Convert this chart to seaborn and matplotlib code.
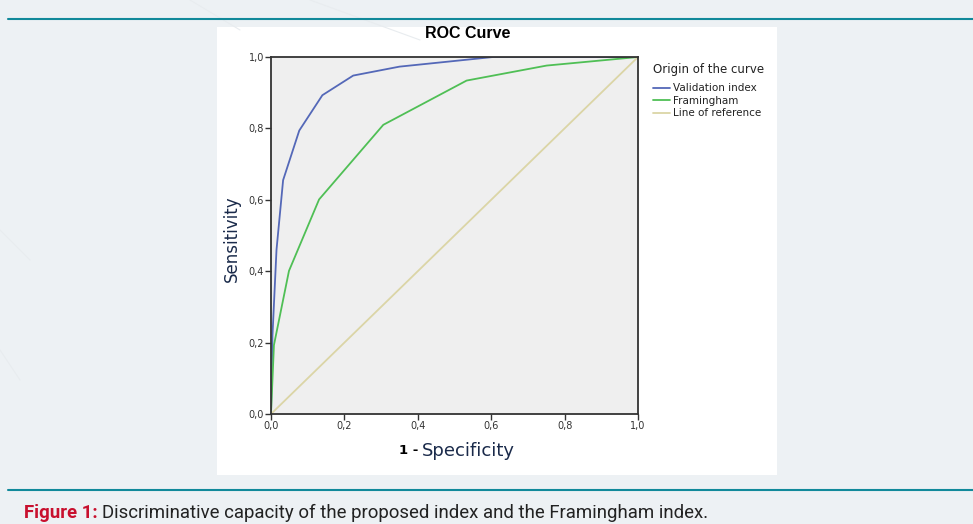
import matplotlib
matplotlib.use("Agg")
import matplotlib.pyplot as plt
import seaborn as sns
import pandas as pd
from matplotlib.patches import Rectangle
from matplotlib.lines import Line2D

# ---- data ----
validation_fpr = [0.0, 0.004, 0.015, 0.033, 0.077, 0.14, 0.224, 0.35, 0.605, 1.0]
validation_tpr = [0.0, 0.22, 0.46, 0.655, 0.794, 0.893, 0.948, 0.973, 1.0, 1.0]
framingham_fpr = [0.0, 0.008, 0.049, 0.131, 0.306, 0.533, 0.751, 1.0]
framingham_tpr = [0.0, 0.193, 0.401, 0.601, 0.81, 0.934, 0.976, 1.0]
reference_fpr = [0.0, 1.0]
reference_tpr = [0.0, 1.0]
series_names = ["Validation index", "Framingham", "Line of reference"]
series_colors = ["#5468b8", "#4fbf55", "#dbd5a6"]
tick_values = [0.0, 0.2, 0.4, 0.6, 0.8, 1.0]
tick_labels = ["0,0", "0,2", "0,4", "0,6", "0,8", "1,0"]

rows = []
for name, xs, ys in zip(series_names,
                        [validation_fpr, framingham_fpr, reference_fpr],
                        [validation_tpr, framingham_tpr, reference_tpr]):
    for i, (x, y) in enumerate(zip(xs, ys)):
        rows.append({"curve": name, "order": i, "fpr": x, "tpr": y})
df = pd.DataFrame(rows)

sns.set_theme(style="white")
plt.rcParams["font.family"] = ["DejaVu Sans"]

W, H = 973, 524
fig = plt.figure(figsize=(W / 100, H / 100), dpi=100)
fig.patch.set_facecolor("#edf1f4")

def fx(px):
    return px / W

def fy(py):
    return 1 - py / H

# decorative faint diagonal strokes
for (x0, y0, x1, y1) in [(190, 0, 240, 30), (310, 0, 420, 40), (0, 230, 30, 260), (0, 350, 20, 380)]:
    fig.add_artist(Line2D([fx(x0), fx(x1)], [fy(y0), fy(y1)], color="#e8ecef", lw=0.8))

# teal rules
fig.add_artist(Line2D([fx(8), 1], [fy(19), fy(19)], color="#11899a", lw=1.5))
fig.add_artist(Line2D([fx(8), 1], [fy(490), fy(490)], color="#11899a", lw=1.5))

# white panel
fig.add_artist(Rectangle((fx(217), fy(475)), fx(777) - fx(217), fy(27) - fy(475),
                         transform=fig.transFigure, facecolor="white", edgecolor="none", zorder=0))

ax = fig.add_axes([fx(271), fy(414), fx(638) - fx(271), fy(57) - fy(414)])
ax.set_facecolor("#efefef")

sns.lineplot(data=df, x="fpr", y="tpr", hue="curve", hue_order=series_names,
             palette=series_colors, sort=False, estimator=None,
             lw=1.3, ax=ax, legend=False)

ax.set_xlim(0, 1)
ax.set_ylim(0, 1)
ax.set_xticks(tick_values)
ax.set_xticklabels(tick_labels)
ax.set_yticks(tick_values)
ax.set_yticklabels(tick_labels)
ax.tick_params(axis="both", which="both", direction="out", length=4, width=1,
               color="#333333", labelsize=7, labelcolor="#333333", pad=1,
               bottom=True, left=True)
for s in ax.spines.values():
    s.set_color("#333333")
    s.set_linewidth(1.3)
ax.set_xlabel("")
ax.set_ylabel("")

fig.text(fx(468), fy(34), "ROC Curve", ha="center", va="center",
         fontsize=11.5, fontweight="bold", color="black", family="Liberation Sans")
fig.text(fx(232), fy(239), "Sensitivity", rotation=90, ha="center", va="center",
         fontsize=12, color="#1a2a4a")
t_one = fig.text(fx(399), fy(451), "1 -", ha="left", va="center",
                 fontsize=9.5, fontweight="bold", color="black")
fig.canvas.draw()
b1 = t_one.get_window_extent()
fig.text(b1.x1 / W + 0.004, fy(451), "Specificity", ha="left", va="center",
         fontsize=13, color="#1a2a4a")

handles = [Line2D([], [], color=c, lw=1.3) for c in series_colors]
leg = ax.legend(handles, series_names, title="Origin of the curve",
                loc="upper left", bbox_to_anchor=(fx(648), fy(58)),
                bbox_transform=fig.transFigure, frameon=False, fontsize=7.5,
                title_fontsize=8.5, handlelength=1.6, handletextpad=0.3,
                labelspacing=0.25, borderpad=0)
leg._legend_box.align = "left"
leg._legend_box.sep = 5
leg.get_title().set_color("#222222")
for t in leg.get_texts():
    t.set_color("#222222")

t1 = fig.text(fx(24), fy(513), "Figure 1:", ha="left", va="center",
              fontsize=13.4, fontweight="bold", color="#c8102e", family="Roboto")
fig.canvas.draw()
bb = t1.get_window_extent()
fig.text(bb.x1 / W + 0.004, fy(513), "Discriminative capacity of the proposed index and the Framingham index.",
         ha="left", va="center", fontsize=13.4, color="#222222", family="Roboto")

fig.savefig("out.png", dpi=100, facecolor=fig.get_facecolor())
